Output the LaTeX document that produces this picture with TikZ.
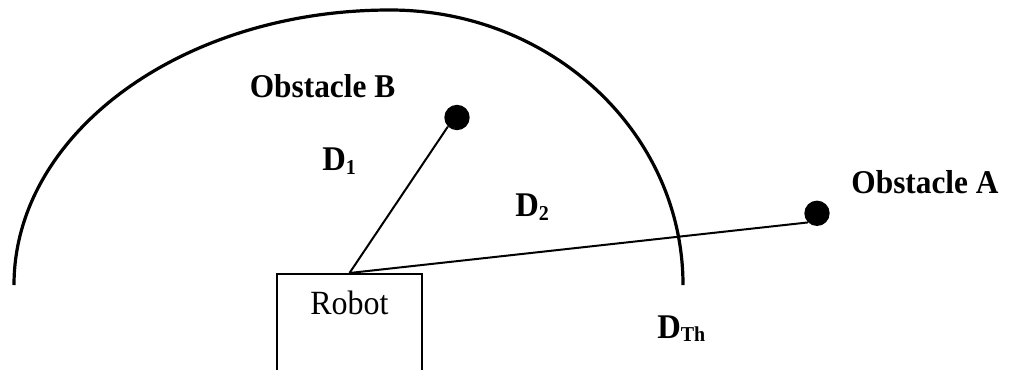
\documentclass[tikz,border=0pt]{standalone}
\usepackage{fontspec}
\setmainfont{Liberation Serif}
\begin{document}
\begin{tikzpicture}[x=0.75pt,y=0.75pt,
  arcline/.style={line width=2.4pt},
  link/.style={line width=1.5pt},
  dot/.style={circle,fill=black,inner sep=0pt,minimum size=19pt},
  boldlbl/.style={font=\bfseries\fontsize{23.5}{25}\selectfont,inner sep=0pt,anchor=base,yscale=1.06},
  dlbl/.style={font=\bfseries\fontsize{24.5}{26}\selectfont,inner sep=0pt,anchor=base west,yscale=1.06},
  robotbox/.style={draw,line width=1.4pt,minimum width=108.75pt,minimum height=76pt,inner sep=0pt,anchor=north}
]
\clip (0,0) rectangle (1009,369);
\useasboundingbox (0,0) rectangle (1009,369);
% threshold arc
\draw[arcline] (14,84) arc[start angle=180,end angle=90,x radius=282pt,y radius=206.25pt]
  arc[start angle=90,end angle=0,x radius=219.75pt,y radius=206.25pt];
% robot
\node[robotbox] (robot) at (349.5,96) {};
\node[font=\fontsize{24}{26}\selectfont,inner sep=0pt,anchor=base,yscale=1.06] (robottext) at (349.5,55) {Robot};
% obstacles
\node[dot] (obB) at (457,251.5) {};
\node[dot] (obA) at (817,155.7) {};
\node[boldlbl] (labB) at (322.5,271.7) {Obstacle B};
\node[boldlbl] (labA) at (925,176) {Obstacle A};
% distances
\draw[link] (robot.north) -- (obB.225);
\draw[link] (robot.north) -- (obA.225);
\node[dlbl] (d1) at (322,198.3) {D\raisebox{-2.8pt}{\fontsize{15}{15}\selectfont 1}};
\node[dlbl] (d2) at (515,152.3) {D\raisebox{-2.8pt}{\fontsize{15}{15}\selectfont 2}};
\node[dlbl] (dth) at (657,31) {D\raisebox{-2.8pt}{\fontsize{15}{15}\selectfont Th}};
\end{tikzpicture}
\end{document}
